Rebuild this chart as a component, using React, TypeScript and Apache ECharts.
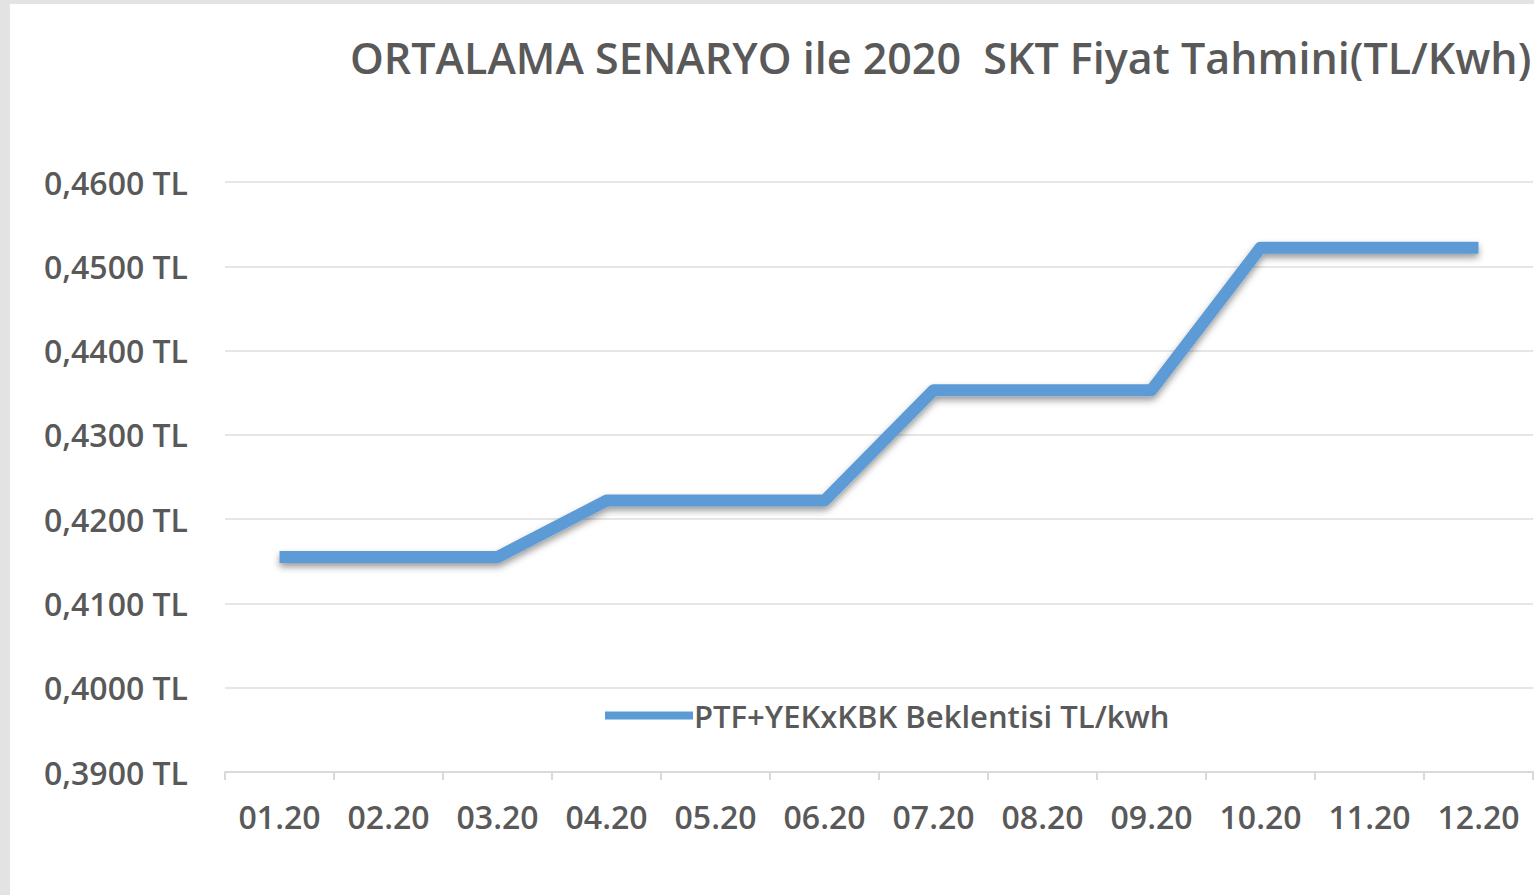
import React, { useEffect, useRef } from "react";
import * as echarts from "echarts";

const categories = ["01.20", "02.20", "03.20", "04.20", "05.20", "06.20", "07.20", "08.20", "09.20", "10.20", "11.20", "12.20"];
const values = [0.4155, 0.4155, 0.4155, 0.4222, 0.4222, 0.4222, 0.4353, 0.4353, 0.4353, 0.4522, 0.4522, 0.4522];
const seriesName = "PTF+YEKxKBK Beklentisi TL/kwh";
const titleText = "ORTALAMA SENARYO ile 2020  SKT Fiyat Tahmini(TL/Kwh)";

export default function App() {
  const ref = useRef<HTMLDivElement>(null);
  useEffect(() => {
    document.body.style.margin = "0";
    const chart = echarts.init(ref.current!, null, { renderer: "svg" });
    const font = "'Open Sans', sans-serif";
    chart.setOption({
      animation: false,
      backgroundColor: "#ffffff",
      graphic: [
        { type: "rect", left: 0, top: 0, shape: { width: 10, height: 895 }, style: { fill: "#e3e3e3" } },
        { type: "rect", left: 0, top: 0, shape: { width: 1534, height: 4 }, style: { fill: "#e3e3e3" } },
      ],
      title: {
        text: titleText,
        left: 345,
        top: 31,
        textStyle: { fontFamily: font, fontSize: 43, fontWeight: 600, color: "#595959" },
      },
      legend: {
        data: [seriesName],
        left: 600,
        top: 695,
        itemWidth: 88,
        itemHeight: 8,
        itemGap: 4,
        icon: "rect",
        textStyle: { fontFamily: font, fontSize: 31, fontWeight: 600, color: "#595959", padding: [0, 0, 0, -4] },
      },
      grid: { left: 225, right: 1, top: 182, bottom: 123, containLabel: false },
      xAxis: {
        type: "category",
        data: categories,
        boundaryGap: true,
        axisLine: { lineStyle: { color: "#d9d9d9", width: 2 } },
        axisTick: { show: true, length: 8, lineStyle: { color: "#d9d9d9", width: 2 } },
        axisLabel: { fontFamily: font, fontSize: 32, fontWeight: 600, color: "#595959", margin: 28 },
      },
      yAxis: {
        type: "value",
        min: 0.39,
        max: 0.46,
        interval: 0.01,
        axisLine: { show: false },
        axisTick: { show: false },
        splitLine: { lineStyle: { color: "#e6e6e6", width: 2 } },
        axisLabel: {
          fontFamily: font,
          fontSize: 32,
          fontWeight: 600,
          color: "#595959",
          margin: 37,
          formatter: (v: number) => v.toFixed(4).replace(".", ",") + " TL",
        },
      },
      series: [
        {
          name: seriesName,
          type: "line",
          data: values,
          showSymbol: false,
          symbol: "none",
          lineStyle: {
            color: "#5b9bd5",
            width: 12,
            join: "round",
            shadowColor: "rgba(0,0,0,0.4)",
            shadowBlur: 7,
            shadowOffsetY: 4,
          },
          itemStyle: { color: "#5b9bd5" },
        },
      ],
    });
    return () => chart.dispose();
  }, []);
  return <div ref={ref} style={{ width: 1534, height: 895 }} />;
}
